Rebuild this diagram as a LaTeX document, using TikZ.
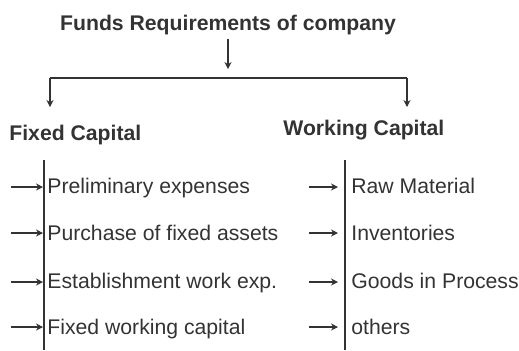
\documentclass[tikz,border=0pt]{standalone}
\usepackage{fontspec}
\setmainfont{Liberation Sans}
\usetikzlibrary{arrows.meta}

\tikzset{
  ink/.style={color=black!80},
  conn/.style={ink, line width=0.55pt},
  arr/.style={conn, -{Stealth[length=3.5pt,width=3.5pt]}},
  head/.style={ink, font=\fontsize{10.6}{12}\selectfont\bfseries, inner sep=0pt},
  item/.style={ink, font=\fontsize{10.6}{12}\selectfont, inner sep=0pt, anchor=base west}
}

\begin{document}
\begin{tikzpicture}[x=0.5pt,y=-0.5pt]
\useasboundingbox (0,0) rectangle (519,350);

\node [head, anchor=base] (funds) at (228,30) {Funds Requirements of company};
\coordinate (fstart) at (228,39); \coordinate (fend) at (228,69);
\coordinate (fl) at (50,78); \coordinate (wl) at (407,78);
\coordinate (fltip) at (50,107); \coordinate (wltip) at (407,107);
\draw [arr] (fstart) -- (fend);
\draw [conn] (fl) -- (wl);
\node [head, anchor=base west] (fixed) at (9,140) {Fixed Capital};
\node [head, anchor=base west] (work) at (283,135) {Working Capital};
\draw [arr] (fl) -- (fltip);
\draw [arr] (wl) -- (wltip);

% left column
\coordinate (ltop) at (44,160); \coordinate (lbot) at (44,350);
\draw [conn] (ltop) -- (lbot);
\node [item] (f1) at (47,193) {Preliminary expenses};
\node [item] (f2) at (47,240) {Purchase of fixed assets};
\node [item] (f3) at (47,288) {Establishment work exp.};
\node [item] (f4) at (47,334) {Fixed working capital};
\foreach \y in {187,233,282,327}
  \draw [arr] (11,\y) -- (43,\y);

% right column
\coordinate (rtop) at (345,160); \coordinate (rbot) at (345,350);
\draw [conn] (rtop) -- (rbot);
\node [item] (w1) at (351,193) {Raw Material};
\node [item] (w2) at (351,240) {Inventories};
\node [item] (w3) at (351,288) {Goods in Process};
\node [item] (w4) at (351,334) {others};
\foreach \y in {187,233,282,327}
  \draw [arr] (309,\y) -- (338,\y);

\end{tikzpicture}
\end{document}
